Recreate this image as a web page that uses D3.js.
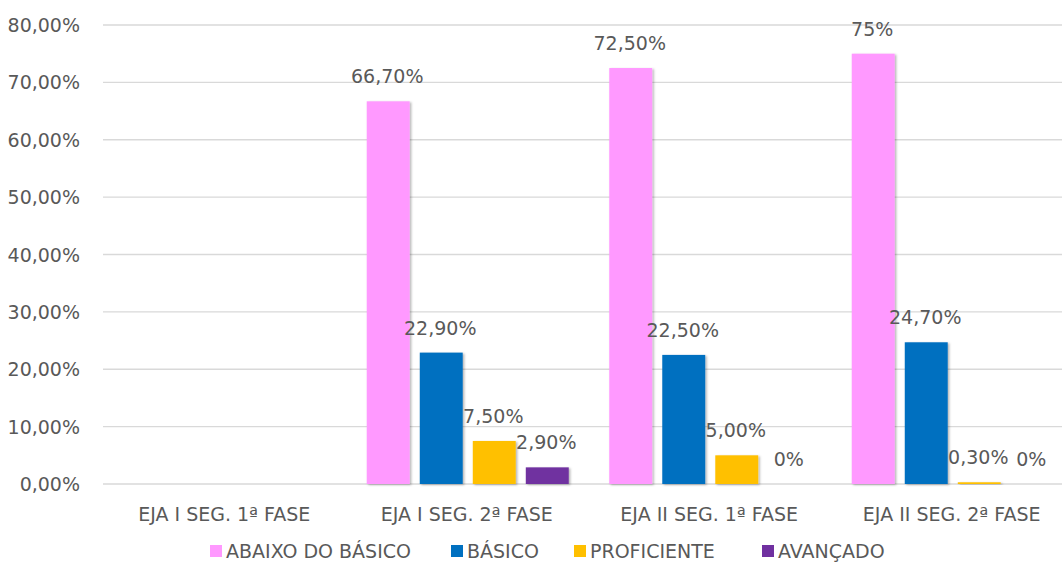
<!DOCTYPE html>
<html>
<head>
<meta charset="utf-8">
<script src="https://cdnjs.cloudflare.com/ajax/libs/d3/7.8.5/d3.min.js"></script>
<style>
  body { margin: 0; background: #fff; }
  text { font-family: "DejaVu Sans", sans-serif; fill: #595959; }
</style>
</head>
<body>
<div id="myDiv"></div>
<script>
var categories = ["EJA I SEG. 1ª FASE", "EJA I SEG. 2ª FASE", "EJA II SEG. 1ª FASE", "EJA II SEG. 2ª FASE"];
var seriesNames = ["ABAIXO DO BÁSICO", "BÁSICO", "PROFICIENTE", "AVANÇADO"];
var seriesColors = ["#FF99FF", "#0070C0", "#FFC000", "#7030A0"];
// null = sem dado
var abaixo = [null, 66.7, 72.5, 75];
var basico = [null, 22.9, 22.5, 24.7];
var proficiente = [null, 7.5, 5.0, 0.3];
var avancado = [null, 2.9, 0, 0];
var labelsAbaixo = [null, "66,70%", "72,50%", "75%"];
var labelsBasico = [null, "22,90%", "22,50%", "24,70%"];
var labelsProf = [null, "7,50%", "5,00%", "0,30%"];
var labelsAvanc = [null, "2,90%", "0%", "0%"];
var yTicks = [0, 10, 20, 30, 40, 50, 60, 70, 80];

var w = 1062, h = 563;
var mLeft = 103, mRight = 1073, mTop = 25, mBottom = 484;

var series = [abaixo, basico, proficiente, avancado];
var seriesLabels = [labelsAbaixo, labelsBasico, labelsProf, labelsAvanc];

var svg = d3.select("#myDiv").append("svg")
    .attr("width", w).attr("height", h);

var defs = svg.append("defs");
var f = defs.append("filter").attr("id", "sh").attr("x", "-20%").attr("y", "-20%").attr("width", "150%").attr("height", "150%");
f.append("feDropShadow").attr("dx", 1.5).attr("dy", 1).attr("stdDeviation", 1.2).attr("flood-color", "#000").attr("flood-opacity", 0.3);

var y = d3.scaleLinear().domain([0, 80]).range([mBottom, mTop]);
var x0 = d3.scaleBand().domain(categories).range([mLeft, mRight]).paddingInner(0).paddingOuter(0);
var x1 = d3.scaleBand().domain(d3.range(4)).range([x0.bandwidth() / 2 - 100, x0.bandwidth() / 2 + 102]).paddingInner(0.19).paddingOuter(0);

// gridlines
svg.append("g").selectAll("line")
  .data(yTicks)
  .enter().append("line")
  .attr("x1", mLeft).attr("x2", w)
  .attr("y1", function(d) { return y(d); })
  .attr("y2", function(d) { return y(d); })
  .attr("stroke", "#d9d9d9")
  .attr("stroke-width", 1.3);

// y axis labels
svg.append("g").selectAll("text")
  .data(yTicks)
  .enter().append("text")
  .attr("x", 80)
  .attr("y", function(d) { return y(d) + 7; })
  .attr("text-anchor", "end")
  .attr("font-size", "19px")
  .text(function(d) { return d.toFixed(2).replace(".", ",") + "%"; });

// bars
var groups = svg.append("g").selectAll("g")
  .data(categories)
  .enter().append("g")
  .attr("transform", function(d) { return "translate(" + x0(d) + ",0)"; });

groups.each(function(cat, ci) {
  var g = d3.select(this);
  var items = [];
  for (var s = 0; s < series.length; s++) {
    if (series[s][ci] !== null) items.push({ s: s, v: series[s][ci], label: seriesLabels[s][ci] });
  }
  g.selectAll("rect")
    .data(items)
    .enter().append("rect")
    .attr("x", function(d) { return x1(d.s); })
    .attr("width", x1.bandwidth())
    .attr("y", function(d) { return y(d.v); })
    .attr("height", function(d) { return mBottom - y(d.v); })
    .attr("fill", function(d) { return seriesColors[d.s]; })
    .attr("filter", "url(#sh)");
  g.selectAll("text")
    .data(items)
    .enter().append("text")
    .attr("x", function(d) { return x1(d.s) + x1.bandwidth() / 2 - 1; })
    .attr("y", function(d) { return y(d.v) - 18; })
    .attr("text-anchor", "middle")
    .attr("font-size", "19px")
    .text(function(d) { return d.label; });
});

// category labels
svg.append("g").selectAll("text")
  .data(categories)
  .enter().append("text")
  .attr("x", function(d) { return x0(d) + x0.bandwidth() / 2; })
  .attr("y", 521)
  .attr("text-anchor", "middle")
  .attr("font-size", "19px")
  .text(function(d) { return d; });

// legend
var legendX = [210, 451, 574, 762];
var lg = svg.append("g").selectAll("g")
  .data(seriesNames)
  .enter().append("g")
  .attr("transform", function(d, i) { return "translate(" + legendX[i] + ",545)"; });
lg.append("rect")
  .attr("width", 12).attr("height", 12)
  .attr("fill", function(d, i) { return seriesColors[i]; });
lg.append("text")
  .attr("x", 16).attr("y", 12.5)
  .attr("font-size", "19px")
  .text(function(d) { return d; });
</script>
</body>
</html>
